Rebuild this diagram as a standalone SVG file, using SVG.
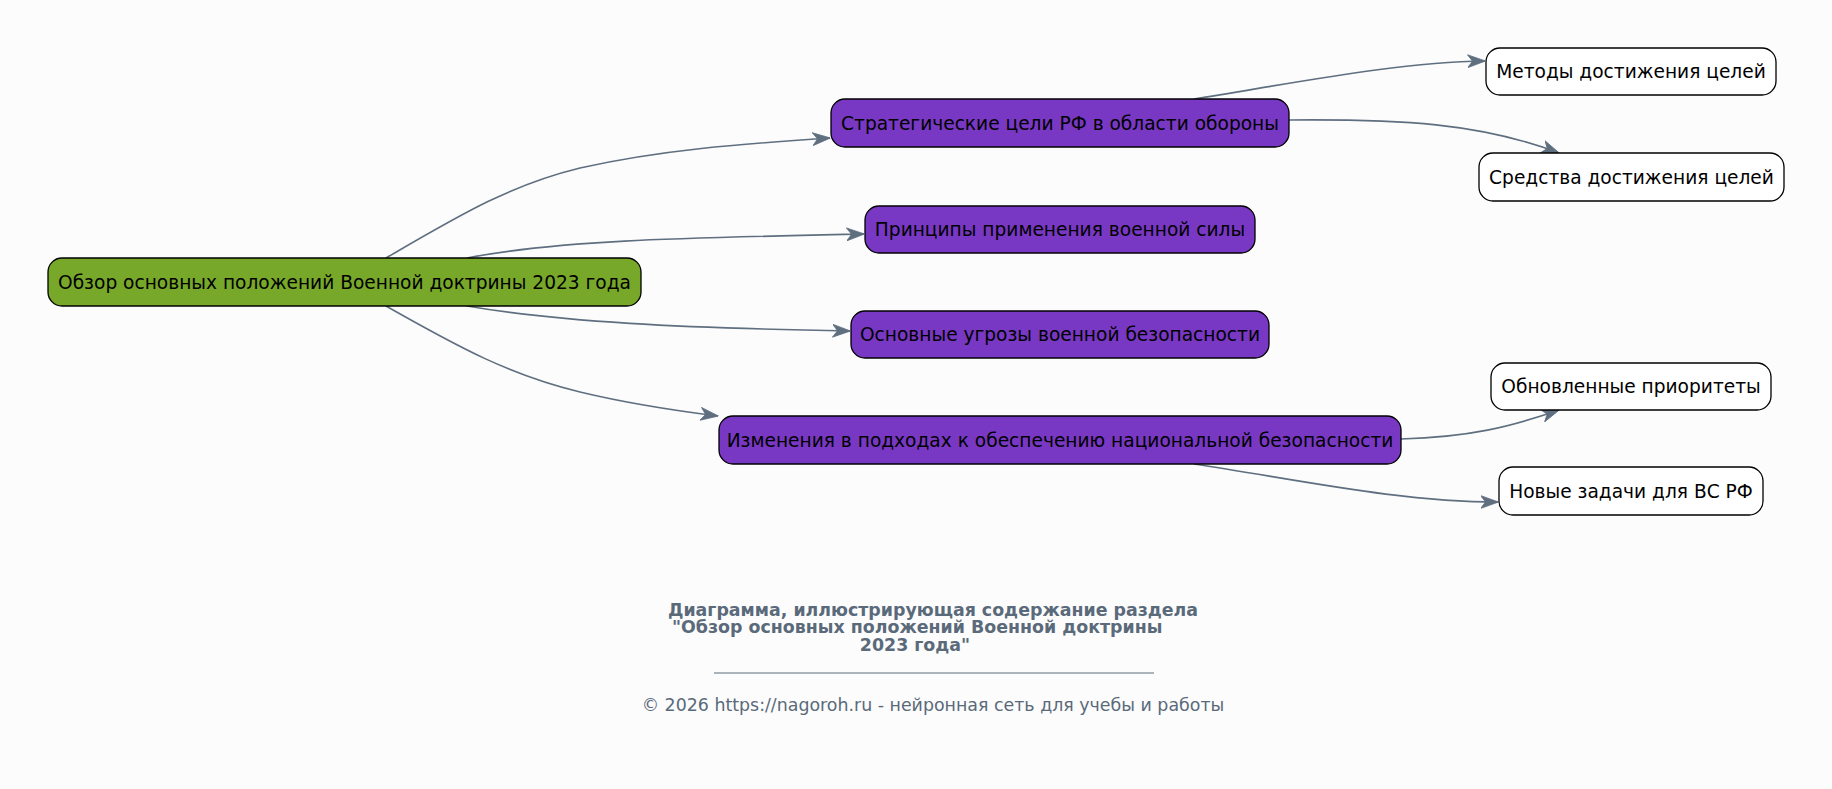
<svg xmlns="http://www.w3.org/2000/svg" width="1832" height="789" viewBox="0 0 1832 789">
<style>
.n rect{stroke:#000;stroke-width:1.3}
.n text{font-family:"DejaVu Sans",sans-serif;font-size:18.6px;fill:#000;text-anchor:middle;dominant-baseline:central}
.root rect{fill:#78a82a}
.mid rect{fill:#7838c4}
.leaf rect{fill:#fff}
.e path{fill:none;stroke:#5f6f80;stroke-width:1.6}
.t{font-family:"DejaVu Sans",sans-serif;fill:#5a6a7a}
</style>
<defs>
<marker id="a" viewBox="0 0 18 14" refX="17.5" refY="7" markerWidth="18" markerHeight="14" markerUnits="userSpaceOnUse" orient="auto">
<path d="M18,7 L0,0.5 L5,7 L0,13.5 Z" fill="#5f6f80" stroke="#5f6f80" stroke-width="0.8" stroke-linejoin="miter"/>
</marker>
</defs>
<rect width="1832" height="789" fill="#fcfcfc"/>
<g id="connectors" class="e">
<path d="M386,258 C460,215 510,185 580,168 C660,150 740,144 830,138" marker-end="url(#a)"/>
<path d="M467,258 C560,240 680,238 864,234" marker-end="url(#a)"/>
<path d="M467,306 C560,322 680,328 850,331" marker-end="url(#a)"/>
<path d="M386,306 C460,348 510,375 580,392 C630,404 670,410 718,416" marker-end="url(#a)"/>
<path d="M1194,99 C1300,82 1400,62 1485,61" marker-end="url(#a)"/>
<path d="M1289,120 C1400,119 1480,123 1559,153" marker-end="url(#a)"/>
<path d="M1401,439 C1470,437 1510,427 1559,410" marker-end="url(#a)"/>
<path d="M1194,464 C1300,480 1400,502 1498,502" marker-end="url(#a)"/>
</g>
<g id="root" class="n root"><rect x="48" y="258" width="593" height="48" rx="14"/><text x="344.5" y="282">Обзор основных положений Военной доктрины 2023 года</text></g>
<g id="goals" class="n mid"><rect x="831" y="99" width="458" height="48" rx="14"/><text x="1060" y="123">Стратегические цели РФ в области обороны</text></g>
<g id="principles" class="n mid"><rect x="865" y="206" width="390" height="47" rx="14"/><text x="1060" y="229.5">Принципы применения военной силы</text></g>
<g id="threats" class="n mid"><rect x="851" y="311" width="418" height="47" rx="14"/><text x="1060" y="334.5">Основные угрозы военной безопасности</text></g>
<g id="changes" class="n mid"><rect x="719" y="416" width="682" height="48" rx="14"/><text x="1060" y="440">Изменения в подходах к обеспечению национальной безопасности</text></g>
<g id="methods" class="n leaf"><rect x="1486" y="48" width="290" height="47" rx="14"/><text x="1631" y="71.5">Методы достижения целей</text></g>
<g id="means" class="n leaf"><rect x="1479" y="153" width="305" height="48" rx="14"/><text x="1631.5" y="177">Средства достижения целей</text></g>
<g id="priorities" class="n leaf"><rect x="1491" y="363" width="280" height="47" rx="14"/><text x="1631" y="386.5">Обновленные приоритеты</text></g>
<g id="tasks" class="n leaf"><rect x="1499" y="467" width="264" height="48" rx="14"/><text x="1631" y="491">Новые задачи для ВС РФ</text></g>
<g id="footer">
<text class="t" font-size="17.4" font-weight="bold" text-anchor="middle" x="933" y="616">Диаграмма, иллюстрирующая содержание раздела</text>
<text class="t" font-size="17.4" font-weight="bold" x="672" y="633">"Обзор основных положений Военной доктрины</text>
<text class="t" font-size="17.4" font-weight="bold" text-anchor="middle" x="915" y="651">2023 года"</text>
<line x1="714" y1="673" x2="1154" y2="673" stroke="#5a6a7a" stroke-width="1"/>
<text class="t" font-size="17.4" text-anchor="middle" x="933" y="711">© 2026 https://nagoroh.ru - нейронная сеть для учебы и работы</text>
</g>
</svg>
